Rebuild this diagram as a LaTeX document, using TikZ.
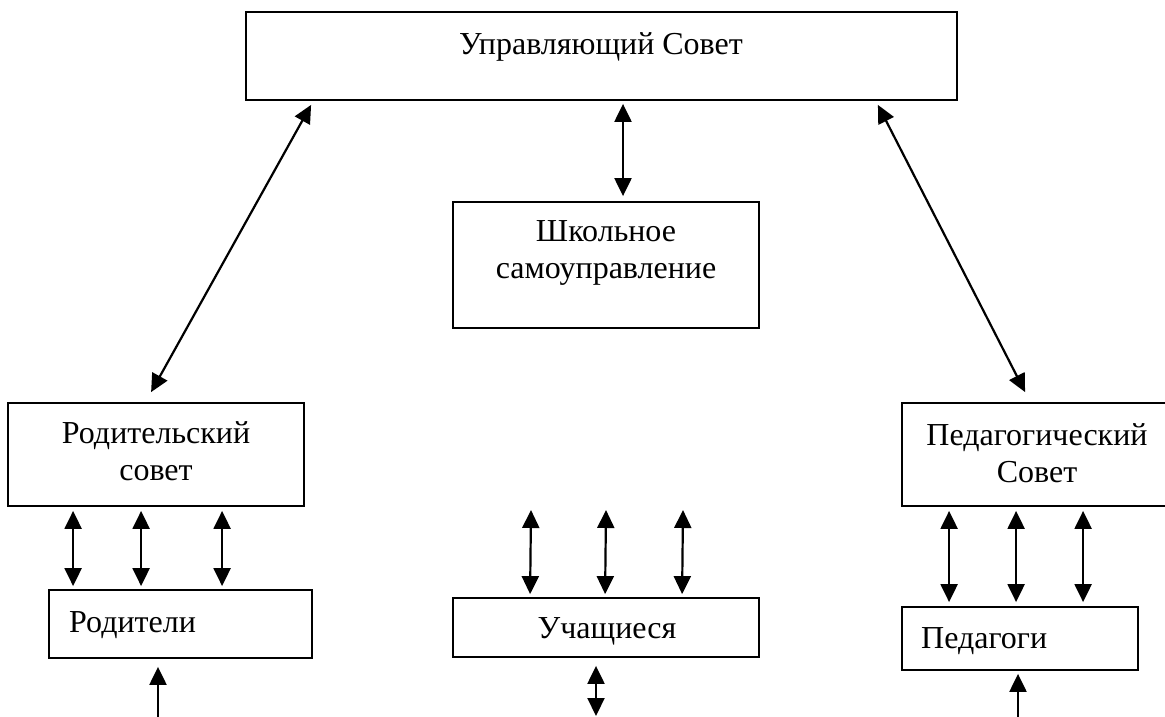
\documentclass[tikz,border=0pt]{standalone}
\usepackage{fontspec}
\setmainfont{Liberation Serif}
\usetikzlibrary{arrows.meta,calc}
\begin{document}
\begin{tikzpicture}[x=1pt,y=-1pt,
  box/.style={draw,line width=1.8pt,inner sep=0pt,rectangle},
  txt/.style={inner sep=0pt,align=center,font=\fontsize{32}{37}\selectfont},
  tip/.tip={Triangle[width=17pt,length=18pt]},
  arr/.style={line width=2.2pt,tip-tip},
  uparr/.style={line width=2.2pt,-tip}]
\useasboundingbox (0,0) rectangle (1165,717);
\clip (0,0) rectangle (1165,717);
% boxes
\node[box,minimum width=711pt,minimum height=88pt] (uc) at (601.5,56) {};
\node[box,minimum width=306pt,minimum height=126pt] (ss) at (606,265) {};
\node[box,minimum width=296pt,minimum height=103pt] (rs) at (156,454.5) {};
\node[box,minimum width=270pt,minimum height=103pt] (ps) at (1037,454.5) {};
\node[box,minimum width=263pt,minimum height=68pt] (rod) at (180.5,624) {};
\node[box,minimum width=306pt,minimum height=59pt] (uch) at (606,627.5) {};
\node[box,minimum width=236pt,minimum height=63pt] (ped) at (1020,638.5) {};
% texts (base anchor = baseline of the last line)
\node[txt,anchor=base] (ucT) at (601,55) {Управляющий Совет};
\node[txt,anchor=base] (ssT) at (606,278) {Школьное\\самоуправление};
\node[txt,anchor=base] (rsT) at (156,480) {Родительский\\совет};
\node[txt,anchor=base] (psT) at (1037,482) {Педагогический\\Совет};
\node[txt,anchor=base west] (rodT) at (69,632) {Родители};
\node[txt,anchor=base] (uchT) at (607,638) {Учащиеся};
\node[txt,anchor=base west] (pedT) at (921,648) {Педагоги};
% free ends
\coordinate (ua1) at (531,510);
\coordinate (ua2) at (606,510);
\coordinate (ua3) at (683,510);
\coordinate (ub) at (596,716);
\coordinate (rb) at (158,722);
\coordinate (pb) at (1018,722);
% connectors
\draw[arr] ($(uc.south west)+(66,4)$) -- ($(rs.north west)+(144,-10)$);
\draw[arr] ($(uc.south east)+(-80,4)$) -- ($(ps.north west)+(124,-10)$);
\draw[arr] ($(uc.south)+(21.5,3)$) -- ($(ss.north)+(17,-5)$);
\foreach \dx/\ex in {66/25,134/93,215/174}{
  \draw[arr] ($(rs.south west)+(\dx,4)$) -- ($(rod.north west)+(\ex,-3)$);
}
\foreach \dx in {48,115,182}{
  \draw[arr] ($(ps.south west)+(\dx,4)$) -- ($(ped.north west)+(\dx,-4)$);
}
\draw[arr] (ua1) -- ($(uch.north west)+(78,-3)$);
\draw[arr] (ua2) -- ($(uch.north west)+(153,-3)$);
\draw[arr] (ua3) -- ($(uch.north west)+(230,-3)$);
\draw[arr] ($(uch.south)+(-10,8)$) -- (ub);
\draw[uparr] (rb) -- ($(rod.south)+(-22.5,8)$);
\draw[uparr] (pb) -- ($(ped.south)+(-2,3)$);
\end{tikzpicture}
\end{document}
